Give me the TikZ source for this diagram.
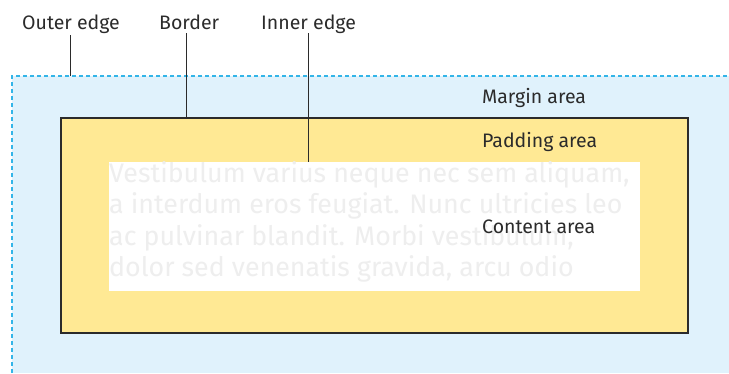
\documentclass[tikz,border=0pt]{standalone}
\usepackage{fontspec}
\setmainfont{Fira Sans}
\definecolor{marginblue}{HTML}{E0F2FC}
\definecolor{dashblue}{HTML}{33B5E8}
\definecolor{padyellow}{HTML}{FFE994}
\definecolor{inkdark}{HTML}{2B2B2B}
\definecolor{ghost}{HTML}{EEEEEE}
\tikzset{
  lbl/.style={font=\fontsize{19.5}{23}\selectfont, text=inkdark, inner sep=0pt, anchor=base west},
  ghosttext/.style={font=\fontsize{26.8}{30}\selectfont, text=ghost, inner sep=0pt, anchor=base west},
  leader/.style={draw=inkdark, line width=1pt},
}
\begin{document}
\begin{tikzpicture}[x=1pt,y=-1pt]
\useasboundingbox (0,0) rectangle (729,373);
% margin area
\fill[marginblue] (12,76) rectangle (729,373);
\draw[dashblue, line width=1.2pt, dash pattern=on 4pt off 3pt] (12,373) -- (12,76) -- (729,76);
% border + padding
\draw[fill=padyellow, draw=inkdark, line width=2pt] (61,118) rectangle (688,333);
% content
\fill[white] (109,162) rectangle (640,291);
% ghost text
\node[ghosttext] (g1) at (109,182) {Vestibulum varius neque nec sem aliquam,};
\node[ghosttext] (g2) at (109,213) {a interdum eros feugiat. Nunc ultricies leo};
\node[ghosttext] (g3) at (109,245) {ac pulvinar blandit. Morbi vestibulum,};
\node[ghosttext] (g4) at (109,276) {dolor sed venenatis gravida, arcu odio};
% area labels
\node[lbl] (margin) at (482,103) {Margin area};
\node[lbl] (padding) at (482,147) {Padding area};
\node[lbl] (content) at (482,233) {Content area};
% top labels
\node[lbl] (outer) at (22,29) {Outer edge};
\node[lbl] (border) at (159,29) {Border};
\node[lbl] (inner) at (261,29) {Inner edge};
\coordinate (outerend) at (70.5,76);
\coordinate (borderend) at (186,118);
\coordinate (innerend) at (308,162);
\draw[leader] (outerend |- 0,35) -- (outerend);
\draw[leader] (borderend |- 0,33) -- (borderend);
\draw[leader] (innerend |- 0,33) -- (innerend);
\end{tikzpicture}
\end{document}
